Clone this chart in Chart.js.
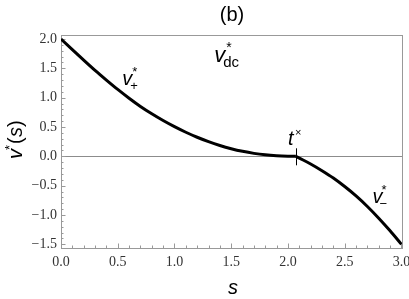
<!DOCTYPE html>
<html><head><meta charset="utf-8">
<script src="https://cdn.jsdelivr.net/npm/chart.js@4"></script>
<style>html,body{margin:0;padding:0;background:#fff}#wrap{width:409px;height:299px;position:relative}</style>
</head><body><div id="wrap"><canvas id="c" width="409" height="299"></canvas></div>
<script>
// ---- data ----
const sPlus = [0.0,0.1,0.2,0.3,0.4,0.5,0.6,0.7,0.8,0.9,1.0,1.1,1.2,1.3,1.4,1.5,1.6,1.7,1.8,1.9,2.0,2.07];
const vPlus = [2.00,1.82,1.64,1.465,1.30,1.14,0.99,0.85,0.725,0.61,0.505,0.41,0.325,0.25,0.185,0.13,0.085,0.05,0.025,0.01,0.002,0.0];
const sMinus = [2.07,2.1,2.2,2.3,2.4,2.5,2.6,2.7,2.8,2.9,3.0];
const vMinus = [0.0,-0.03,-0.13,-0.245,-0.37,-0.515,-0.675,-0.855,-1.055,-1.27,-1.50];
const xTicks = [0,0.5,1.0,1.5,2.0,2.5,3.0];
const yTicks = [-1.5,-1.0,-0.5,0.0,0.5,1.0,1.5,2.0];
const xMinor = [];
for (let i = 0; i <= 30; i++) xMinor.push(i/10);
const yMinor = [];
for (let i = -15; i <= 20; i++) yMinor.push(i/10);
const crossS = 2.07;

const fmt = v => (v < 0 ? '\u2212' : '') + Math.abs(v).toFixed(1);
const SANS = '"Liberation Sans", Arial, sans-serif';
const SERIF = '"Liberation Serif", "Times New Roman", serif';

function pts(xs, ys){ return xs.map((x,i)=>({x:x, y:ys[i]})); }

const framePlugin = {
  id: 'frame',
  beforeDatasetsDraw(chart){
    const {ctx, chartArea:a, scales:{x, y}} = chart;
    ctx.save();
    ctx.strokeStyle = '#8c8c8c'; ctx.lineWidth = 1;
    const y0 = Math.round(y.getPixelForValue(0)) + 0.5;
    ctx.beginPath(); ctx.moveTo(a.left, y0); ctx.lineTo(a.right, y0); ctx.stroke();
    ctx.strokeStyle = '#999';
    ctx.strokeRect(Math.round(a.left)+0.5, Math.round(a.top)+0.5, Math.round(a.right-a.left), Math.round(a.bottom-a.top));
    xMinor.forEach(v => {
      const major = xTicks.some(t => Math.abs(t - v) < 1e-6);
      const px = Math.round(x.getPixelForValue(v)) + 0.5;
      const len = major ? 4.5 : 2.5;
      ctx.beginPath(); ctx.moveTo(px, a.bottom); ctx.lineTo(px, a.bottom - len); ctx.stroke();
    });
    yMinor.forEach(v => {
      const major = yTicks.some(t => Math.abs(t - v) < 1e-6);
      const py = Math.round(y.getPixelForValue(v)) + 0.5;
      const len = major ? 4.5 : 2.5;
      ctx.beginPath(); ctx.moveTo(a.left, py); ctx.lineTo(a.left + len, py); ctx.stroke();
    });
    ctx.restore();
  },
  afterDatasetsDraw(chart){
    const {ctx, scales:{x, y}} = chart;
    ctx.save();
    const cx = Math.round(x.getPixelForValue(crossS)) + 0.5;
    const cy = y.getPixelForValue(0);
    ctx.strokeStyle = '#000'; ctx.lineWidth = 1;
    ctx.beginPath(); ctx.moveTo(cx, cy - 8); ctx.lineTo(cx, cy + 9); ctx.stroke();

    ctx.fillStyle = '#000';
    ctx.textBaseline = 'alphabetic';
    ctx.textAlign = 'left';
    const T = (txt, px, py, font) => { ctx.font = font; ctx.fillText(txt, px, py); };

    // v*_dc
    let p = [x.getPixelForValue(1.35), y.getPixelForValue(1.56)];
    T('v', p[0], p[1]-3, 'italic 22px ' + SANS);
    T('*', p[0]+12, p[1]-13, '14px ' + SANS);
    T('dc', p[0]+9, p[1]+2, '15px ' + SANS);
    // v*_+
    p = [x.getPixelForValue(0.54), y.getPixelForValue(1.21)];
    T('v', p[0], p[1], 'italic 20px ' + SANS);
    T('*', p[0]+10, p[1]-9, '13px ' + SANS);
    T('+', p[0]+8, p[1]+5, '13px ' + SANS);
    // t^x
    p = [x.getPixelForValue(2.0), y.getPixelForValue(0.19)];
    T('t', p[0], p[1], 'italic 20px ' + SANS);
    T('\u00d7', p[0]+7, p[1]-9, '11px ' + SANS);
    // v*_-
    p = [x.getPixelForValue(2.745), y.getPixelForValue(-0.79)];
    T('v', p[0], p[1], 'italic 20px ' + SANS);
    T('*', p[0]+9, p[1]-9, '13px ' + SANS);
    T('\u2212', p[0]+7, p[1]+5, '13px ' + SANS);

    ctx.textAlign = 'center';
    T('(b)', 232, 21, '20px ' + SANS);
    T('s', 233, 294, 'italic 20px ' + SANS);
    ctx.save();
    ctx.translate(22, 159);
    ctx.rotate(-Math.PI/2);
    ctx.textAlign = 'left';
    T('v', 0, 0, 'italic 20px ' + SANS);
    T('*', 9, -8, '13px ' + SANS);
    T('(', 15, 0, '20px ' + SANS);
    T('s', 22, 0, 'italic 20px ' + SANS);
    T(')', 32, 0, '20px ' + SANS);
    ctx.restore();
    ctx.restore();
  }
};

new Chart(document.getElementById('c'), {
  type: 'line',
  data: {
    datasets: [
      { data: pts(sPlus, vPlus), borderColor: '#000', borderWidth: 3, pointRadius: 0, cubicInterpolationMode: 'monotone', fill: false },
      { data: pts(sMinus, vMinus), borderColor: '#000', borderWidth: 3, pointRadius: 0, cubicInterpolationMode: 'monotone', fill: false }
    ]
  },
  options: {
    responsive: false,
    animation: false,
    devicePixelRatio: 1,
    layout: { padding: { top: 35, right: 7, left: 0, bottom: 0 } },
    plugins: { legend: { display: false }, tooltip: { enabled: false }, title: { display: false } },
    scales: {
      x: {
        type: 'linear', min: 0, max: 3.005,
        afterBuildTicks: s => { s.ticks = xTicks.map(v => ({ value: v })); },
        afterFit: s => { s.height = 51; s.paddingLeft = 0; s.paddingRight = 0; },
        grid: { display: false, drawTicks: false },
        border: { display: false },
        ticks: { font: { family: SERIF, size: 14 }, color: '#333', padding: 6, maxRotation: 0, autoSkip: false, callback: v => fmt(v) }
      },
      y: {
        type: 'linear', min: -1.563, max: 2.068,
        afterBuildTicks: s => { s.ticks = yTicks.map(v => ({ value: v })); },
        afterFit: s => { s.width = 61; s.paddingTop = 0; s.paddingBottom = 0; },
        grid: { display: false, drawTicks: false },
        border: { display: false },
        ticks: { font: { family: SERIF, size: 14 }, color: '#333', padding: 4, autoSkip: false, callback: v => fmt(v) }
      }
    }
  },
  plugins: [framePlugin]
});
</script>
</body></html>
